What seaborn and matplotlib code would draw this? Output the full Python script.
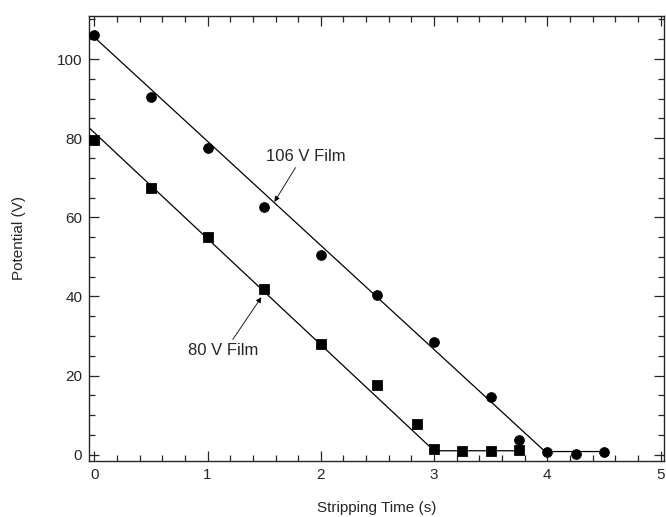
import numpy as np
import pandas as pd
import seaborn as sns
from matplotlib import pyplot as plt
from matplotlib.ticker import MultipleLocator

# measured points
time_106 = [0, 0.5, 1.0, 1.5, 2.0, 2.5, 3.0, 3.5, 3.75, 4.0, 4.25, 4.5]
volt_106 = [106, 90.5, 77.5, 62.5, 50.5, 40.3, 28.5, 14.6, 3.6, 0.8, 0.3, 0.6]

time_80 = [0, 0.5, 1.0, 1.5, 2.0, 2.5, 2.85, 3.0, 3.25, 3.5, 3.75]
volt_80 = [79.5, 67.5, 55.0, 42.0, 28.0, 17.5, 7.7, 1.5, 0.9, 0.9, 1.2]

# fitted lines (break points)
fit_time_106 = [0, 3.98, 4.5]
fit_volt_106 = [105.5, 0.8, 0.8]
fit_time_80 = [-0.06, 3.0, 3.75]
fit_volt_80 = [83.0, 1.0, 1.0]

sns.set_style("ticks")
plt.rcParams['font.family'] = ['Liberation Sans', 'DejaVu Sans']

fig = plt.figure(figsize=(6.66, 5.17), dpi=100)
ax = fig.add_axes([0.134, 0.109, 0.863, 0.861])

df_106 = pd.DataFrame({"t": time_106, "v": volt_106})
df_80 = pd.DataFrame({"t": time_80, "v": volt_80})

sns.lineplot(x=fit_time_106, y=fit_volt_106, ax=ax, color="black", lw=0.9, sort=False, estimator=None)
sns.lineplot(x=fit_time_80, y=fit_volt_80, ax=ax, color="black", lw=0.9, sort=False, estimator=None)
sns.scatterplot(data=df_106, x="t", y="v", ax=ax, marker="o", s=50, color="black", edgecolor="black", zorder=3)
sns.scatterplot(data=df_80, x="t", y="v", ax=ax, marker="s", s=50, color="black", edgecolor="black", zorder=3)

ax.set_xlim(-0.045, 5.03)
ax.set_ylim(-1.5, 111)
ax.xaxis.set_major_locator(MultipleLocator(1))
ax.xaxis.set_minor_locator(MultipleLocator(0.2))
ax.yaxis.set_major_locator(MultipleLocator(20))
ax.yaxis.set_minor_locator(MultipleLocator(5))
ax.tick_params(which="both", direction="in", top=True, right=True, labelsize=11, width=0.9)
ax.tick_params(which="major", length=7, pad=5)
ax.tick_params(which="minor", length=4)
for s in ax.spines.values():
    s.set_linewidth(1.0)

ax.set_xlabel("Stripping Time (s)", fontsize=11, labelpad=14)
ax.set_ylabel("Potential (V)", fontsize=11, labelpad=22)

ax.annotate("106 V Film", xy=(1.59, 63.9), xytext=(1.52, 75.3), fontsize=12, va="center",
            arrowprops=dict(arrowstyle="-|>", color="black", lw=0.6, mutation_scale=8,
                            shrinkA=0, shrinkB=0, relpos=(0.39, 0)))
ax.annotate("80 V Film", xy=(1.475, 39.8), xytext=(0.83, 26.4), fontsize=12, va="center",
            arrowprops=dict(arrowstyle="-|>", color="black", lw=0.6, mutation_scale=8,
                            shrinkA=0, shrinkB=0, relpos=(0.6, 1)))

fig.savefig("out.png", dpi=100)
